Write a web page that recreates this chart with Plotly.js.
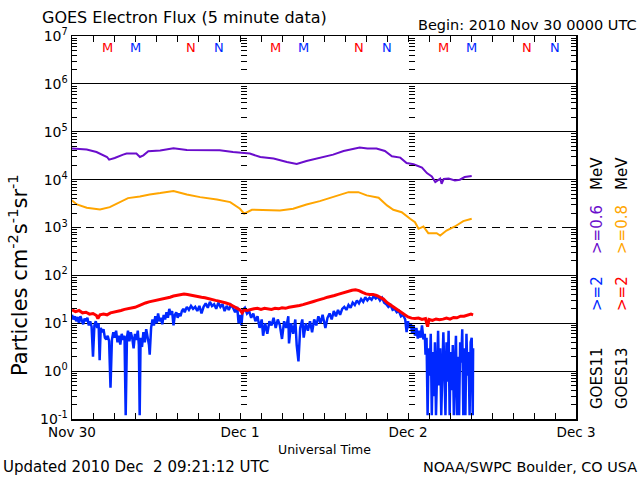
<!DOCTYPE html>
<html>
<head>
<meta charset="utf-8">
<script src="https://cdn.plot.ly/plotly-3.0.1.min.js"></script>
<style>html,body{margin:0;padding:0;background:#fff;}#chart{width:640px;height:480px;}</style>
</head>
<body>
<div id="chart"></div>
<script>
// ---- Data (hours since 2010-11-30 00:00 UTC, flux values) ----
// GOES11 >=0.6 MeV (purple)
var g11LowT = [0, 1, 2.1, 3.5, 4.4, 5.0, 5.3, 6.1, 7.3, 7.8, 9.2, 9.7, 10.2, 10.9, 12.6, 14.5, 16.4, 18.3, 21.1, 23.0, 24.2, 25.4, 26.9, 28.8, 30.7, 32.1, 33.5, 35.4, 37.3, 38.8, 40.2, 41.1, 42.2, 43.5, 44.7, 45.7, 46.9, 47.8, 48.8, 50.0, 50.7, 51.4, 51.9, 52.6, 52.8, 53.1, 53.8, 54.7, 55.4, 56.1, 57.1];
var g11LowV = [44500, 44000, 42400, 37700, 33000, 29700, 26200, 28300, 33300, 35000, 35000, 29700, 32200, 39100, 40400, 45200, 41600, 41000, 41000, 37700, 36600, 35000, 29700, 27500, 23300, 21200, 24500, 28300, 33300, 39600, 43100, 46700, 44500, 44500, 39600, 30700, 28800, 22200, 20900, 17800, 13700, 11700, 8900, 10500, 8200, 10300, 10500, 9650, 9970, 11300, 11900];

// GOES13 >=0.8 MeV (orange)
var g13LowT = [0, 0.7, 2.1, 4.0, 5.4, 6.9, 8.0, 9.7, 11.1, 12.6, 14.5, 16.4, 18.3, 20.7, 22.6, 24.0, 24.6, 25.7, 27.8, 29.7, 31.6, 33.5, 35.4, 37.8, 39.5, 40.9, 42.1, 43.8, 45.0, 45.9, 47.1, 48.3, 49.0, 49.5, 50.2, 50.9, 52.1, 52.6, 53.5, 54.7, 55.9, 57.1];
var g13LowV = [3670, 3030, 2590, 2380, 2660, 3390, 4110, 4460, 4910, 5230, 5750, 4910, 4310, 3850, 3390, 2460, 1940, 2350, 2350, 2270, 2460, 3030, 3560, 4680, 5480, 5480, 4680, 4190, 2890, 2350, 2090, 1520, 1290, 940, 1050, 760, 760, 680, 865, 1050, 1360, 1520];

// GOES13 >=2 MeV (red)
var g13HighT = [0.0, 0.5, 1.0, 1.5, 2.0, 2.5, 3.0, 3.5, 3.7, 4.0, 4.5, 5.0, 5.5, 6.0, 6.5, 7.0, 7.5, 8.0, 8.5, 9.0, 9.5, 10.0, 10.5, 11.0, 11.5, 12.0, 12.5, 13.0, 13.5, 14.0, 14.5, 15.0, 15.5, 16.0, 16.5, 17.0, 17.5, 18.0, 18.5, 19.0, 19.5, 20.0, 20.5, 21.0, 21.5, 22.0, 22.5, 23.0, 23.5, 24.0, 24.3, 24.6, 25.0, 25.5, 26.0, 26.5, 27.0, 27.5, 28.0, 28.5, 29.0, 29.5, 30.0, 30.5, 31.0, 31.5, 32.0, 32.5, 33.0, 33.5, 34.0, 34.5, 35.0, 35.5, 36.0, 36.5, 37.0, 37.5, 38.0, 38.5, 39.0, 39.5, 40.0, 40.5, 41.0, 41.5, 42.0, 42.5, 43.0, 43.5, 44.0, 44.5, 45.0, 45.5, 46.0, 46.5, 47.0, 47.5, 48.0, 48.5, 49.0, 49.5, 50.0, 50.5, 50.8, 51.0, 51.5, 52.0, 52.5, 53.0, 53.5, 54.0, 54.5, 55.0, 55.5, 56.0, 56.5, 57.0, 57.3];
var g13HighV = [19, 17.5, 18.5, 16.5, 17, 15.5, 16, 14.5, 12.5, 15, 15.5, 15, 16.5, 17, 17.5, 18.5, 19.5, 20, 20.5, 21.5, 23, 25, 26.5, 28, 29, 30, 31, 32, 33, 35, 37, 38, 40, 41, 40, 39, 38, 37, 35, 34, 33, 32, 30, 29, 28, 26.5, 25, 23, 21, 19, 16.5, 19, 18.5, 19.5, 20, 20.5, 19.5, 20.5, 20, 19.5, 20.5, 20, 21, 20.5, 21.5, 22, 23, 23.5, 24.5, 25.5, 27, 28.5, 30, 32, 33, 35, 36, 38, 40, 42, 45, 48, 49, 50, 48, 44, 41, 40, 40, 38, 35, 32, 27, 24, 21, 19, 16.5, 15, 13.5, 12.8, 12.5, 12.8, 12, 12.5, 8.5, 12, 11.5, 12.3, 11.8, 12.2, 12.8, 12.2, 13.2, 13, 14, 14, 14.5, 15.5, 15];

// GOES11 >=2 MeV (blue)
var g11HighT = [0.0, 0.2, 0.4, 0.6, 0.8, 1.0, 1.2, 1.4, 1.6, 1.8, 2.0, 2.2, 2.4, 2.6, 2.8, 3.0, 3.2, 3.4, 3.6, 3.8, 3.95, 4.1, 4.3, 4.5, 4.7, 4.9, 5.1, 5.3, 5.5, 5.7, 5.9, 6.1, 6.3, 6.5, 6.7, 6.9, 7.1, 7.3, 7.5, 7.67, 7.85, 8.0, 8.2, 8.4, 8.6, 8.8, 9.0, 9.2, 9.4, 9.55, 9.67, 9.8, 10.0, 10.2, 10.4, 10.6, 10.8, 11.0, 11.1, 11.3, 11.5, 11.7, 11.9, 12.1, 12.3, 12.5, 12.7, 12.9, 13.1, 13.3, 13.5, 13.7, 13.9, 14.1, 14.3, 14.5, 14.7, 14.9, 15.1, 15.3, 15.5, 15.7, 15.9, 16.1, 16.4, 16.7, 17.0, 17.3, 17.6, 17.9, 18.2, 18.5, 18.8, 19.1, 19.4, 19.7, 20.0, 20.3, 20.6, 20.9, 21.2, 21.5, 21.8, 22.1, 22.4, 22.7, 23.0, 23.3, 23.6, 23.8, 24.0, 24.2, 24.4, 24.7, 25.0, 25.3, 25.6, 25.9, 26.2, 26.5, 26.8, 27.1, 27.3, 27.6, 27.9, 28.2, 28.5, 28.8, 29.1, 29.4, 29.7, 30.0, 30.3, 30.6, 30.9, 31.0, 31.3, 31.6, 31.9, 32.1, 32.35, 32.6, 32.9, 33.1, 33.4, 33.7, 34.0, 34.3, 34.6, 34.9, 35.2, 35.5, 35.8, 36.0, 36.2, 36.5, 36.8, 37.1, 37.4, 37.7, 38.0, 38.3, 38.6, 38.9, 39.2, 39.5, 39.8, 40.1, 40.4, 40.7, 41.0, 41.3, 41.6, 41.9, 42.2, 42.5, 42.8, 43.1, 43.4, 43.7, 44.0, 44.3, 44.6, 44.9, 45.2, 45.5, 45.8, 46.1, 46.4, 46.7, 47.0, 47.3, 47.6, 47.8, 48.0, 48.2, 48.4, 48.6, 48.8, 49.0, 49.2, 49.4, 49.6, 49.8, 50.0, 50.2, 50.4, 50.5, 50.65, 50.8, 50.95, 51.1, 51.25, 51.4, 51.55, 51.7, 51.85, 52.0, 52.15, 52.3, 52.45, 52.6, 52.75, 52.9, 53.05, 53.2, 53.35, 53.5, 53.65, 53.8, 53.95, 54.1, 54.25, 54.4, 54.55, 54.7, 54.85, 55.0, 55.15, 55.3, 55.45, 55.6, 55.75, 55.9, 56.05, 56.2, 56.35, 56.5, 56.65, 56.8, 56.95, 57.1, 57.25, 57.3];
var g11HighV = [15, 12, 14, 11, 13.5, 10, 14, 12, 9.5, 12.5, 11, 13, 9, 11, 8.5, 2.0, 9, 11, 8, 10, 1.7, 8, 6.5, 7.5, 5, 4.6, 5.5, 4.2, 0.45, 4.5, 6.5, 5, 7, 4, 5.5, 3.6, 6, 4.5, 5.5, 0.12, 5, 7, 4.2, 6.5, 5, 3, 6, 4.5, 7, 3.5, 0.12, 5, 3.2, 6.5, 4, 7.5, 5, 3.5, 2.2, 8, 12, 9, 14, 10, 16, 11, 13, 9.5, 15, 12, 17, 13, 20, 15, 18, 9, 15, 17, 13, 16, 14, 18, 20, 17, 22, 19, 23, 20, 22, 18, 23, 16, 22, 26, 21, 28, 23, 25, 20, 27, 22, 25, 18, 23, 19, 24, 21, 17, 22, 10, 15, 9, 19, 21, 16, 18, 13, 16, 11, 14, 8, 12, 5.5, 10, 6, 11, 9, 13, 8, 12, 9, 4.7, 11, 8, 14, 3.8, 10, 6, 12, 3.5, 1.6, 8, 12, 5, 10, 7, 11, 6.5, 12, 9, 14, 10, 15, 11, 8, 13, 16, 12, 18, 14, 19, 15, 20, 22, 19, 24, 21, 27, 24, 30, 26, 32, 28, 35, 30, 34, 31, 37, 33, 36, 30, 34, 27, 25, 22, 24, 19, 20, 17, 18, 14, 15, 12, 6.5, 11, 8, 10, 6, 9, 5.5, 8, 4.8, 7, 5, 9, 4.6, 6, 2.2, 5, 0.12, 3, 0.8, 6, 0.12, 2.5, 0.3, 4, 0.12, 1.5, 7, 0.5, 3, 0.12, 2, 6.5, 1, 0.12, 4, 0.6, 7, 0.12, 2.5, 0.4, 3.5, 0.12, 1.2, 5.5, 0.12, 2, 0.12, 4, 1.5, 7.5, 0.12, 3, 0.12, 6, 0.8, 2.5, 0.12, 4, 5, 0.12, 3];

// Local midnight (M) / noon (N) markers, hours
var markerT = [5, 9, 17, 21, 29, 33, 41, 45, 53, 57, 65, 69];
var markerText = ['M', 'M', 'N', 'N', 'M', 'M', 'N', 'N', 'M', 'M', 'N', 'N'];
var markerSat = ['13', '11', '13', '11', '13', '11', '13', '11', '13', '11', '13', '11'];

// Axis tick labels
var dayHours = [0, 24, 48, 72];
var dayLabels = ['Nov 30', 'Dec 1', 'Dec 2', 'Dec 3'];
var yDecades = [0.1, 1, 10, 100, 1e3, 1e4, 1e5, 1e6, 1e7];
var yLabels = ['10<sup>-1</sup>', '10<sup>0</sup>', '10<sup>1</sup>', '10<sup>2</sup>', '10<sup>3</sup>', '10<sup>4</sup>', '10<sup>5</sup>', '10<sup>6</sup>', '10<sup>7</sup>'];
var gridSolid = [1, 10, 100, 1e4, 1e5, 1e6];
var gridDashed = [1e3];

// ---- Build ----
var base = Date.UTC(2010, 10, 30);
function toMs(h) { return base + h * 3600000; }
var FONT = 'DejaVu Sans';
var PURPLE = '#6A0DCC', ORANGE = '#FFA500', RED = '#FF0000', BLUE = '#0028FF';

// tick positions
var minorVals = [];
for (var d = -1; d < 7; d++) for (var k = 2; k <= 9; k++) minorVals.push(k * Math.pow(10, d));
var xTickVals = [], xTickText = [];
for (var h = 0; h <= 72; h += 3) {
  xTickVals.push(toMs(h));
  var di = dayHours.indexOf(h);
  xTickText.push(di >= 0 ? dayLabels[di] : '');
}

var traces = [
  {x: g11LowT.map(toMs), y: g11LowV, mode: 'lines', line: {color: PURPLE, width: 2}},
  {x: g13LowT.map(toMs), y: g13LowV, mode: 'lines', line: {color: ORANGE, width: 2}},
  {x: g11HighT.map(toMs), y: g11HighV, mode: 'lines', line: {color: BLUE, width: 2.5}},
  {x: g13HighT.map(toMs), y: g13HighV, mode: 'lines', line: {color: RED, width: 3}}
];
// carrier traces so the overlay axes (grid, minor ticks, day-boundary ticks) get drawn
['y2', 'y3', 'y4', 'y5', 'y6'].forEach(function (ya) {
  traces.push({x: [toMs(0)], y: [1], yaxis: ya, mode: 'lines', line: {width: 0}, hoverinfo: 'skip', showlegend: false});
});

function overlayY(extra) {
  var a = {type: 'log', range: [-1, 7], overlaying: 'y', tickmode: 'array', showticklabels: false,
    showgrid: false, zeroline: false, showline: false, ticks: ''};
  for (var key in extra) a[key] = extra[key];
  return a;
}

var ann = [];
function P(xp) { return (xp - 72) / 504; }
function Q(yp) { return (419 - yp) / 383; }
ann.push({text: 'GOES Electron Flux (5 minute data)', xref: 'paper', yref: 'paper', x: P(40), y: Q(18), xanchor: 'left', yanchor: 'middle', showarrow: false, font: {family: FONT, size: 16, color: '#000'}});
ann.push({text: 'Begin: 2010 Nov 30 0000 UTC', xref: 'paper', yref: 'paper', x: P(639), y: Q(25), xanchor: 'right', yanchor: 'middle', showarrow: false, font: {family: FONT, size: 14.5, color: '#000'}});
ann.push({text: 'Universal Time', xref: 'paper', yref: 'paper', x: 0.5, y: Q(449), xanchor: 'center', yanchor: 'middle', showarrow: false, font: {family: FONT, size: 12.5, color: '#000'}});
ann.push({text: 'Updated 2010 Dec&nbsp; 2 09:21:12 UTC', xref: 'paper', yref: 'paper', x: P(1), y: Q(467), xanchor: 'left', yanchor: 'middle', showarrow: false, font: {family: FONT, size: 15, color: '#000'}});
ann.push({text: 'NOAA/SWPC Boulder, CO USA', xref: 'paper', yref: 'paper', x: P(639), y: Q(467), xanchor: 'right', yanchor: 'middle', showarrow: false, font: {family: FONT, size: 14.4, color: '#000'}});
ann.push({text: 'Particles cm<sup>-2</sup>s<sup>-1</sup>sr<sup>-1</sup>', xref: 'paper', yref: 'paper', x: P(18), y: Q(275), xanchor: 'center', yanchor: 'middle', textangle: -90, showarrow: false, font: {family: FONT, size: 21, color: '#000'}});

// right-side legend labels
var legCols = [
  {x: 597, parts: [['GOES11', '#000', 378], ['&gt;=2', BLUE, 294], ['&gt;=0.6', PURPLE, 230], ['MeV', '#000', 174]]},
  {x: 622, parts: [['GOES13', '#000', 378], ['&gt;=2', RED, 294], ['&gt;=0.8', ORANGE, 230], ['MeV', '#000', 174]]}
];
legCols.forEach(function (c) {
  c.parts.forEach(function (p) {
    ann.push({text: p[0], xref: 'paper', yref: 'paper', x: P(c.x), y: Q(p[2]), xanchor: 'center', yanchor: 'middle', textangle: -90, showarrow: false, font: {family: FONT, size: 15, color: p[1]}});
  });
});

// M / N markers
for (var i = 0; i < markerT.length; i++) {
  ann.push({text: markerText[i], xref: 'x', yref: 'paper', x: toMs(markerT[i]), y: Q(47), xanchor: 'center', yanchor: 'middle', showarrow: false,
    font: {family: FONT, size: 13, color: markerSat[i] === '13' ? RED : BLUE}});
}

var layout = {
  width: 640, height: 480,
  margin: {l: 72, r: 64, t: 36, b: 61, pad: 0},
  paper_bgcolor: '#fff', plot_bgcolor: '#fff',
  showlegend: false,
  font: {family: FONT, color: '#000'},
  xaxis: {type: 'date', range: [toMs(0), toMs(72)], tickmode: 'array', tickvals: xTickVals, ticktext: xTickText,
    ticks: 'inside', ticklen: 6, tickcolor: '#000', tickwidth: 1, showline: true, linecolor: '#000', linewidth: 1.5, mirror: 'ticks',
    showgrid: false, zeroline: false, tickfont: {family: FONT, size: 13.5, color: '#000'}},
  yaxis: {type: 'log', range: [-1, 7], tickmode: 'array', tickvals: yDecades, ticktext: yLabels,
    ticks: 'inside', ticklen: 9, tickcolor: '#000', tickwidth: 1, showline: true, linecolor: '#000', linewidth: 1.5, mirror: 'ticks',
    showgrid: false, zeroline: false, tickfont: {family: FONT, size: 14, color: '#000'}},
  yaxis2: overlayY({tickvals: gridSolid, showgrid: true, gridcolor: '#000', gridwidth: 1}),
  yaxis3: overlayY({tickvals: gridDashed, showgrid: true, gridcolor: '#000', gridwidth: 1, griddash: '8px,6px'}),
  yaxis4: overlayY({anchor: 'free', position: 1 / 3, tickvals: yDecades.concat(minorVals), ticks: 'inside', ticklen: 6, tickcolor: '#000', tickwidth: 1}),
  yaxis5: overlayY({anchor: 'free', position: 2 / 3, tickvals: yDecades.concat(minorVals), ticks: 'inside', ticklen: 6, tickcolor: '#000', tickwidth: 1}),
  yaxis6: overlayY({tickvals: minorVals, ticks: 'inside', ticklen: 5, tickcolor: '#000', tickwidth: 1, showline: true, linecolor: '#000', linewidth: 1.5, mirror: 'ticks'}),
  annotations: ann
};

Plotly.newPlot('chart', traces, layout, {staticPlot: true, displayModeBar: false});
</script>
</body>
</html>
